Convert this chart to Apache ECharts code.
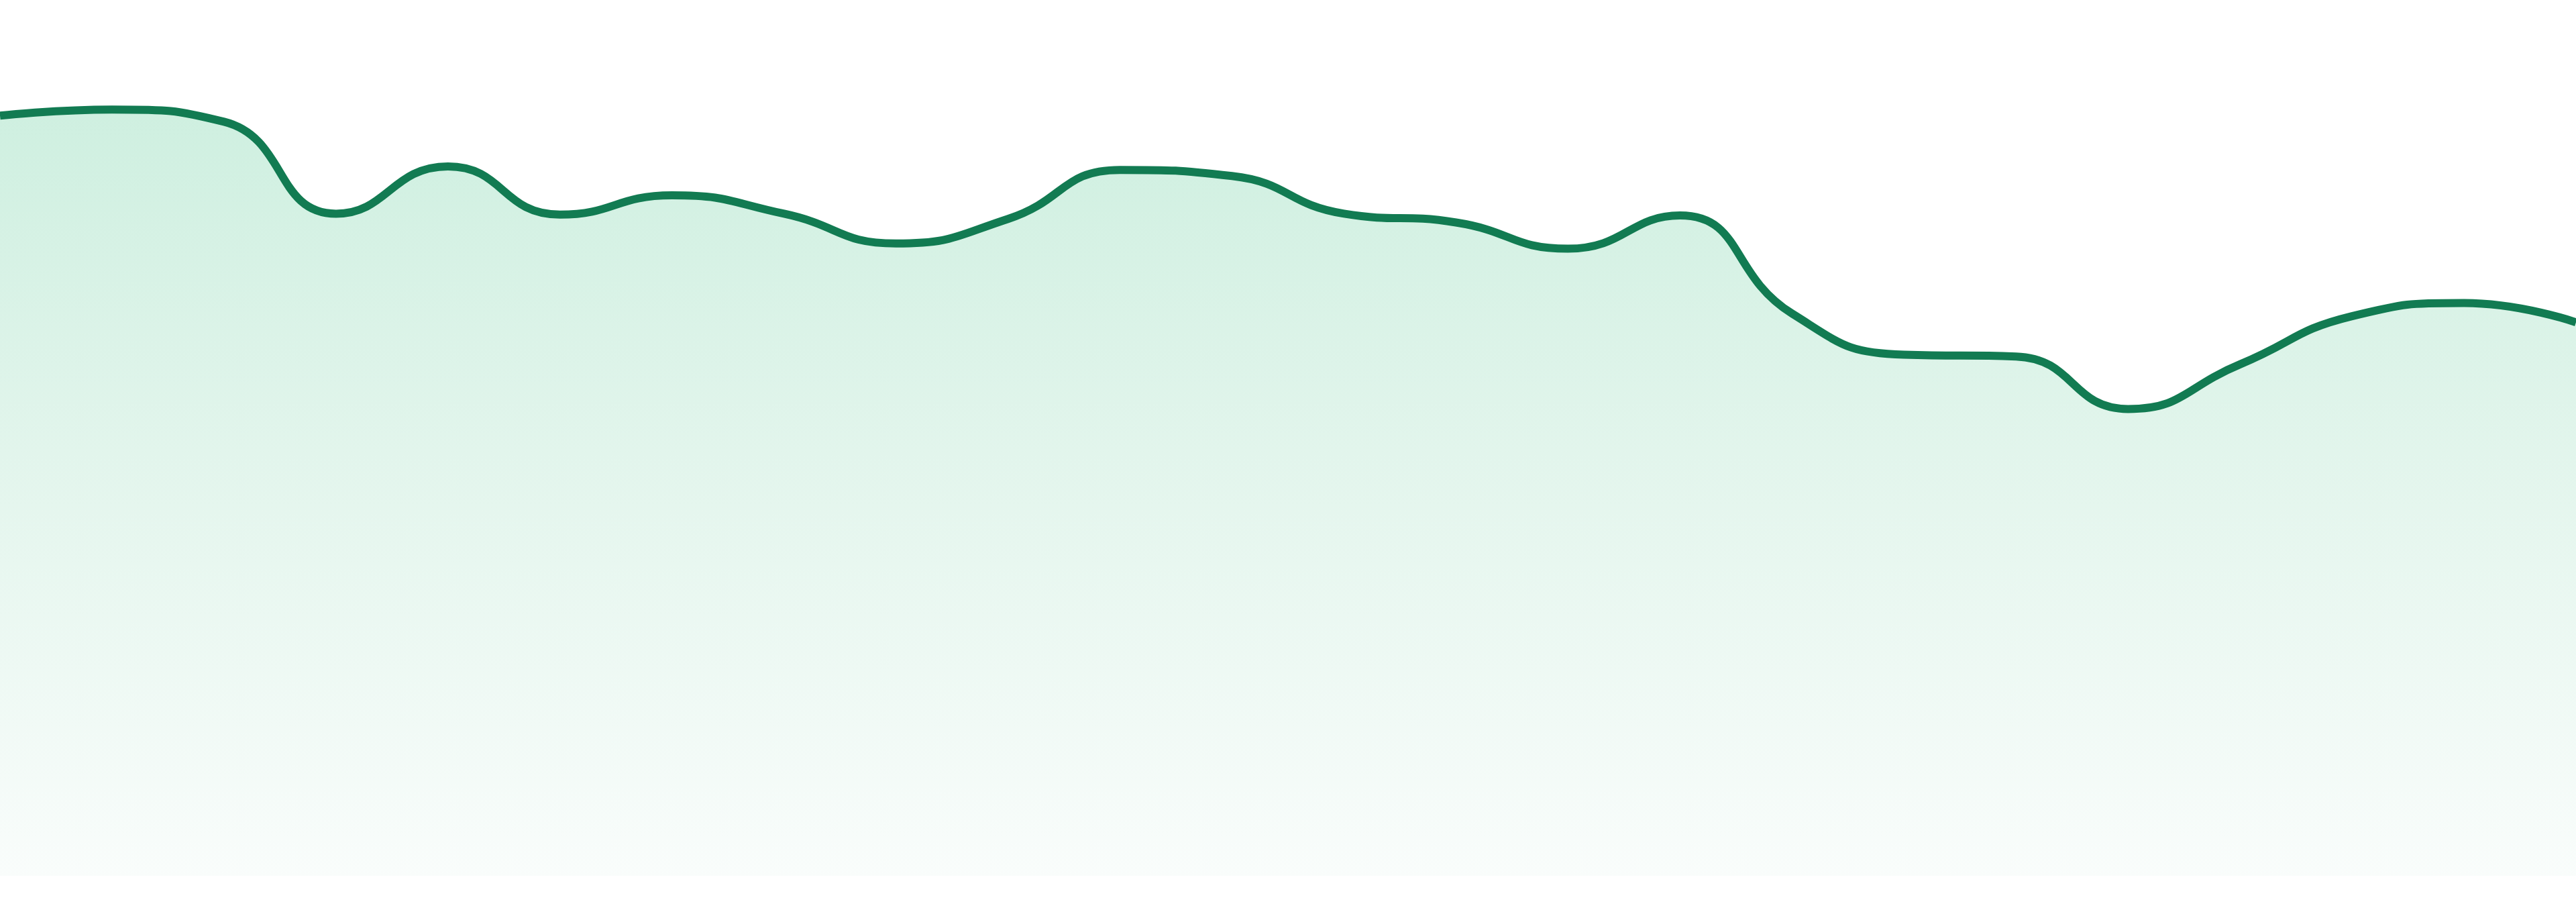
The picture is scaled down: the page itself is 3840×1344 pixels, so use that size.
<!DOCTYPE html>
<html>
<head>
<meta charset="utf-8">
<title>area chart</title>
<script src="https://cdn.jsdelivr.net/npm/echarts@6/dist/echarts.min.js"></script>
<style>
  html, body { margin: 0; padding: 0; background: #fff; }
  #areaChart { width: 3840px; height: 1344px; }
</style>
</head>
<body>
<div id="areaChart"></div>
<script>
// 카테고리 (축은 숨김)
var hourList = ['00', '01', '02', '03', '04', '05', '06', '07', '08', '09', '10', '11',
                '12', '13', '14', '15', '16', '17', '18', '19', '20', '21', '22', '23'];

// 값
var valueList = [86.8, 87.5, 86.1, 75.6, 81.0, 75.5, 77.7, 75.6, 72.2, 75.0, 80.6, 79.9,
                 75.6, 74.6, 71.6, 75.4, 64.2, 59.5, 59.3, 53.3, 58.4, 63.9, 65.4, 63.2];

var areaChart = echarts.init(document.getElementById('areaChart'));

var option = {
    animation: false,
    grid: {
        left: 0,
        right: 0,
        top: 0,
        bottom: 39
    },
    xAxis: {
        type: 'category',
        boundaryGap: false,
        show: false,
        data: hourList
    },
    yAxis: {
        type: 'value',
        show: false,
        min: 0,
        max: 100
    },
    series: [
        {
            type: 'line',
            data: valueList,
            smooth: true,
            symbol: 'none',
            lineStyle: {
                color: '#127b52',
                width: 12
            },
            areaStyle: {
                color: new echarts.graphic.LinearGradient(0, 0, 0, 1, [
                    { offset: 0, color: '#b9e8d2' },
                    { offset: 0.5, color: '#d8f1e5' },
                    { offset: 1, color: '#f6fbf9' }
                ])
            }
        }
    ]
};

areaChart.setOption(option);
</script>
</body>
</html>
